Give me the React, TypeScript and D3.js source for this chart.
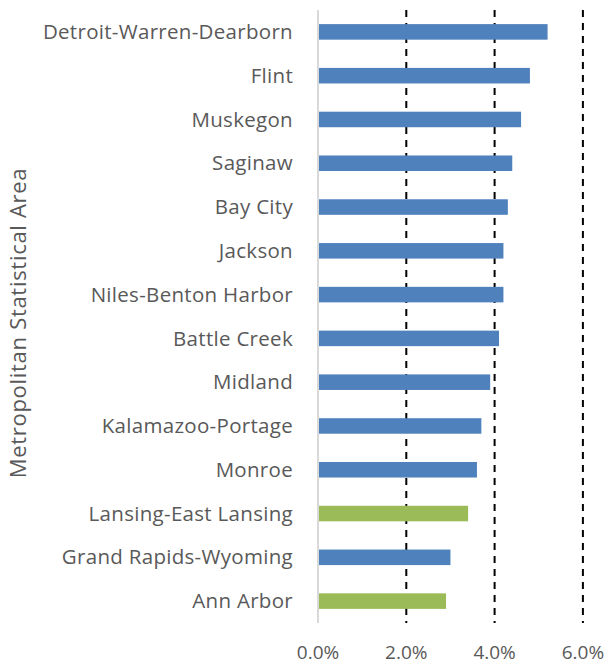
import { useEffect, useRef } from "react";
import * as d3 from "d3";

// Metropolitan statistical areas, top to bottom
const areas = [
  "Detroit-Warren-Dearborn",
  "Flint",
  "Muskegon",
  "Saginaw",
  "Bay City",
  "Jackson",
  "Niles-Benton Harbor",
  "Battle Creek",
  "Midland",
  "Kalamazoo-Portage",
  "Monroe",
  "Lansing-East Lansing",
  "Grand Rapids-Wyoming",
  "Ann Arbor",
];

// rate, in percent
const rates = [5.2, 4.8, 4.6, 4.4, 4.3, 4.2, 4.2, 4.1, 3.9, 3.7, 3.6, 3.4, 3.0, 2.9];

// highlighted areas drawn in green
const highlighted = ["Lansing-East Lansing", "Ann Arbor"];

const xTicks = [0, 2, 4, 6];

const W = 607;
const H = 666;
const margin = { top: 10, right: 24, bottom: 43, left: 318 };
const font = "'Open Sans', sans-serif";
const textColor = "#595959";

export default function App() {
  const ref = useRef<SVGSVGElement>(null);

  useEffect(() => {
    document.body.style.margin = "0";
    if (!ref.current) return;
    const svg = d3.select(ref.current);
    svg.selectAll("*").remove();

    const data = areas.map((name, i) => ({ name, value: rates[i] }));

    const x = d3.scaleLinear().domain([0, 6]).range([margin.left, margin.left + 44.15 * 6]);
    const y = d3
      .scaleBand()
      .domain(areas)
      .range([margin.top, H - margin.bottom])
      .paddingInner(0.645)
      .paddingOuter(0.3225);

    // dashed gridlines
    svg
      .append("g")
      .selectAll("line")
      .data(xTicks.filter((t) => t > 0))
      .enter()
      .append("line")
      .attr("x1", (d) => x(d))
      .attr("x2", (d) => x(d))
      .attr("y1", margin.top)
      .attr("y2", H - margin.bottom)
      .attr("stroke", "#000")
      .attr("stroke-width", 2)
      .attr("stroke-dasharray", "7,6");

    // bars
    svg
      .append("g")
      .selectAll("rect")
      .data(data)
      .enter()
      .append("rect")
      .attr("x", x(0))
      .attr("y", (d) => y(d.name)!)
      .attr("width", (d) => x(d.value) - x(0))
      .attr("height", y.bandwidth())
      .attr("fill", (d) => (highlighted.includes(d.name) ? "#9BBB59" : "#4F81BD"));

    // vertical axis line
    svg
      .append("line")
      .attr("x1", x(0))
      .attr("x2", x(0))
      .attr("y1", margin.top)
      .attr("y2", H - margin.bottom)
      .attr("stroke", "#d9d9d9")
      .attr("stroke-width", 2);

    // category labels
    svg
      .append("g")
      .selectAll("text")
      .data(areas)
      .enter()
      .append("text")
      .attr("x", 293)
      .attr("y", (d) => y(d)! + y.bandwidth() / 2)
      .attr("dy", "0.35em")
      .attr("text-anchor", "end")
      .style("font-family", font)
      .style("font-size", "20.5px")
      .style("letter-spacing", "0.3px")
      .style("fill", textColor)
      .text((d) => d);

    // x tick labels
    svg
      .append("g")
      .selectAll("text")
      .data(xTicks)
      .enter()
      .append("text")
      .attr("x", (d) => x(d))
      .attr("y", 659)
      .attr("text-anchor", "middle")
      .style("font-family", font)
      .style("font-size", "19px")
      .style("fill", textColor)
      .text((d) => d3.format(".1f")(d) + "%");

    // axis title
    svg
      .append("text")
      .attr("transform", `translate(26,${323}) rotate(-90)`)
      .attr("text-anchor", "middle")
      .style("font-family", font)
      .style("font-size", "22px")
      .style("letter-spacing", "0.7px")
      .style("fill", textColor)
      .text("Metropolitan Statistical Area");
  }, []);

  return <svg ref={ref} width={W} height={H} style={{ display: "block", background: "#fff" }} />;
}
